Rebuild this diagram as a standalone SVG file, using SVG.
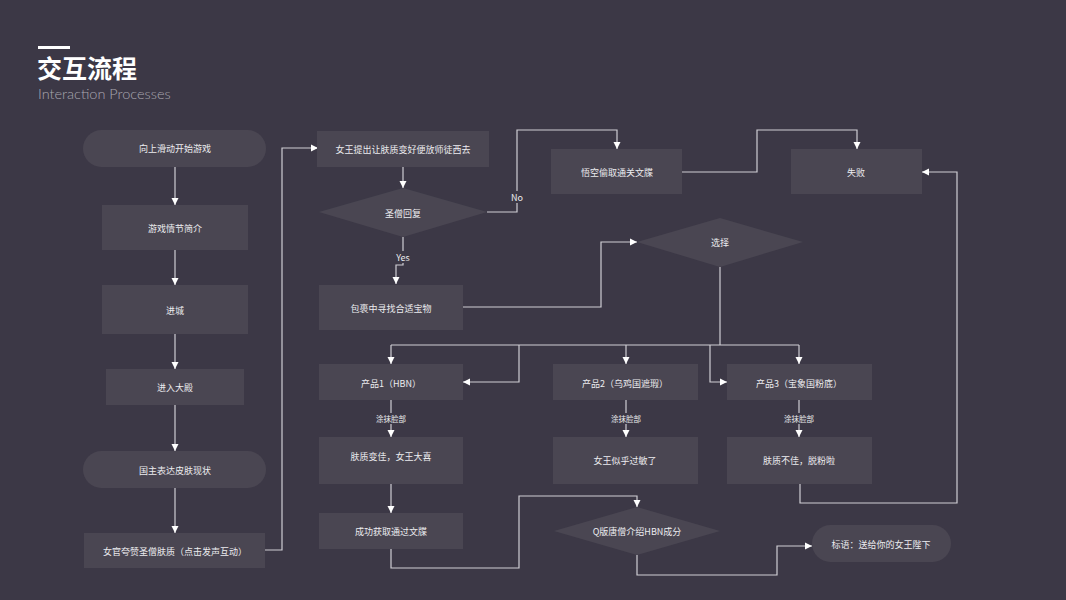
<svg xmlns="http://www.w3.org/2000/svg" width="1066" height="600" viewBox="0 0 1066 600">
<defs>
<style>
.bg{fill:#3c3846}
.n{fill:#4a4652}
.t{font-family:"Noto Sans CJK SC","Noto Sans",sans-serif;font-size:9px;fill:#ececef;text-anchor:middle;dominant-baseline:central}
.s{font-size:7.5px}
.c{fill:none;stroke:#cfced4;stroke-width:1.2}
.lb{fill:#3c3846}
</style>
<marker id="ah" markerUnits="userSpaceOnUse" markerWidth="8" markerHeight="8" refX="7" refY="4" orient="auto">
<path d="M0,0.5 L7,4 L0,7.5 z" fill="#ffffff"/>
</marker>
</defs>
<rect class="bg" x="0" y="0" width="1066" height="600"/>
<g id="title">
<rect x="38" y="46" width="32" height="3" fill="#ffffff"/>
<text x="37" y="78" style="font-family:'Noto Sans CJK SC',sans-serif;font-size:25px;font-weight:bold;fill:#ffffff">交互流程</text>
<text x="38" y="99" style="font-family:'Lato','Liberation Sans',sans-serif;font-size:14.5px;font-weight:300;fill:#a9a7b0">Interaction Processes</text>
</g>
<g id="connectors">
<path class="c" marker-end="url(#ah)" d="M175,167 V205"/>
<path class="c" marker-end="url(#ah)" d="M175,250 V285"/>
<path class="c" marker-end="url(#ah)" d="M175,334 V369"/>
<path class="c" marker-end="url(#ah)" d="M175,405 V451"/>
<path class="c" marker-end="url(#ah)" d="M175,488 V533"/>
<path class="c" marker-end="url(#ah)" d="M265,550 H282 V148 H318"/>
<path class="c" marker-end="url(#ah)" d="M403,167 V188"/>
<path class="c" marker-end="url(#ah)" d="M487,212 H517 V130 H617 V149"/>
<path class="c" marker-end="url(#ah)" d="M403,237 V265 H396 V284"/>
<path class="c" marker-end="url(#ah)" d="M463,307 H601 V242 H637"/>
<path class="c" marker-end="url(#ah)" d="M682,172 H757 V130 H857 V149"/>
<path class="c" d="M720,267 V345 M391,345 H799"/>
<path class="c" marker-end="url(#ah)" d="M391,345 V364"/>
<path class="c" marker-end="url(#ah)" d="M626,345 V364"/>
<path class="c" marker-end="url(#ah)" d="M799,345 V364"/>
<path class="c" marker-end="url(#ah)" d="M519,345 V382 H463"/>
<path class="c" marker-end="url(#ah)" d="M710,345 V382 H727"/>
<path class="c" marker-end="url(#ah)" d="M391,400 V437"/>
<path class="c" marker-end="url(#ah)" d="M626,400 V437"/>
<path class="c" marker-end="url(#ah)" d="M799,400 V437"/>
<path class="c" marker-end="url(#ah)" d="M391,484 V513"/>
<path class="c" marker-end="url(#ah)" d="M391,549 V568 H519 V496 H637 V507"/>
<path class="c" marker-end="url(#ah)" d="M637,555 V575 H777 V546 H812"/>
<path class="c" marker-end="url(#ah)" d="M800,484 V503 H957 V172 H922"/>
<rect class="lb" x="509" y="191" width="17" height="12"/>
<text class="t" x="517" y="197">No</text>
<rect class="lb" x="393" y="251" width="21" height="12"/>
<text class="t" x="403" y="257">Yes</text>
<rect class="lb" x="374" y="413" width="34" height="11"/>
<text class="t s" x="391" y="418">涂抹脸部</text>
<rect class="lb" x="609" y="413" width="34" height="11"/>
<text class="t s" x="626" y="418">涂抹脸部</text>
<rect class="lb" x="782" y="413" width="34" height="11"/>
<text class="t s" x="799" y="418">涂抹脸部</text>
</g>
<g id="n1"><rect class="n" x="83" y="130" width="183" height="37" rx="18.5"/><text class="t" x="175" y="148">向上滑动开始游戏</text></g>
<g id="n2"><rect class="n" x="102" y="205" width="146" height="45"/><text class="t" x="175" y="228">游戏情节简介</text></g>
<g id="n3"><rect class="n" x="102" y="285" width="146" height="49"/><text class="t" x="175" y="310">进城</text></g>
<g id="n4"><rect class="n" x="106" y="369" width="138" height="36"/><text class="t" x="175" y="387">进入大殿</text></g>
<g id="n5"><rect class="n" x="83" y="451" width="183" height="37" rx="18.5"/><text class="t" x="175" y="470">国主表达皮肤现状</text></g>
<g id="n6"><rect class="n" x="84" y="533" width="181" height="35"/><text class="t" x="175" y="551">女官夸赞圣僧肤质（点击发声互动）</text></g>
<g id="n7"><rect class="n" x="317" y="131" width="172" height="36"/><text class="t" x="403" y="149">女王提出让肤质变好便放师徒西去</text></g>
<g id="n8"><polygon class="n" points="319,212 403,188 487,212 403,237"/><text class="t" x="403" y="213">圣僧回复</text></g>
<g id="n9"><rect class="n" x="319" y="285" width="144" height="45"/><text class="t" x="391" y="308">包裹中寻找合适宝物</text></g>
<g id="n10"><rect class="n" x="551" y="149" width="131" height="45"/><text class="t" x="617" y="172">悟空偷取通关文牒</text></g>
<g id="n11"><rect class="n" x="791" y="149" width="131" height="45"/><text class="t" x="856" y="172">失败</text></g>
<g id="n12"><polygon class="n" points="637,242 720,218 803,242 720,267"/><text class="t" x="720" y="242">选择</text></g>
<g id="n13"><rect class="n" x="319" y="364" width="144" height="36"/><text class="t" x="391" y="383">产品1（HBN）</text></g>
<g id="n14"><rect class="n" x="553" y="364" width="145" height="36"/><text class="t" x="625" y="383">产品2（乌鸡国遮瑕）</text></g>
<g id="n15"><rect class="n" x="727" y="364" width="145" height="36"/><text class="t" x="799" y="383">产品3（宝象国粉底）</text></g>
<g id="n16"><rect class="n" x="319" y="437" width="144" height="47"/><text class="t" x="391" y="456">肤质变佳，女王大喜</text></g>
<g id="n17"><rect class="n" x="553" y="437" width="145" height="47"/><text class="t" x="625" y="460">女王似乎过敏了</text></g>
<g id="n18"><rect class="n" x="727" y="437" width="145" height="47"/><text class="t" x="799" y="460">肤质不佳，脱粉啦</text></g>
<g id="n19"><rect class="n" x="319" y="513" width="144" height="36"/><text class="t" x="391" y="531">成功获取通过文牒</text></g>
<g id="n20"><polygon class="n" points="554,531 637,507 720,531 637,555"/><text class="t" x="637" y="531">Q版唐僧介绍HBN成分</text></g>
<g id="n21"><rect class="n" x="812" y="525" width="139" height="37" rx="18.5"/><text class="t" x="881" y="544">标语：送给你的女王陛下</text></g>
</svg>
